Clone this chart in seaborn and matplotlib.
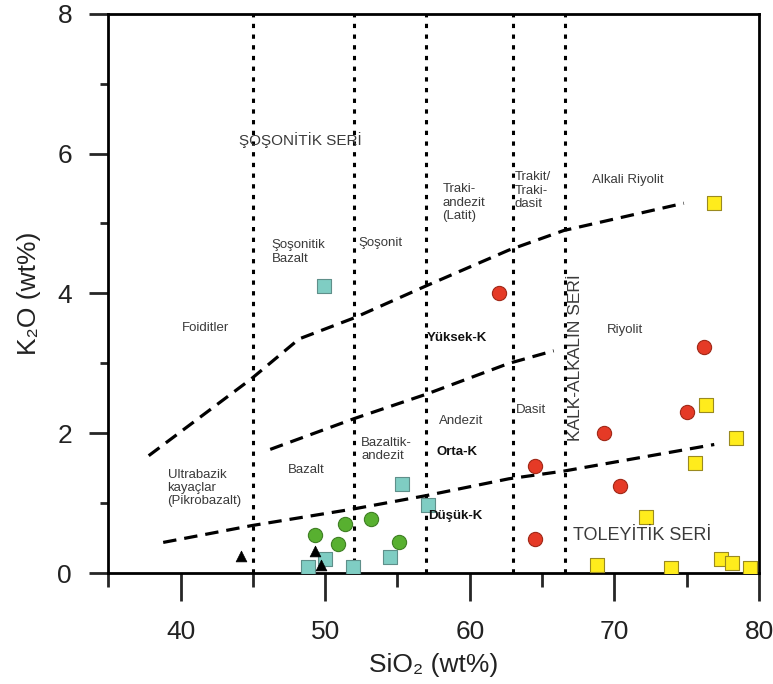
import numpy as np
import pandas as pd
import matplotlib
matplotlib.use("Agg")
import matplotlib.pyplot as plt
import seaborn as sns

# ---------------- data ----------------
cyan_x = [49.9, 55.3, 57.1, 54.5, 51.9, 50.0, 48.8]
cyan_y = [4.10, 1.27, 0.98, 0.23, 0.09, 0.21, 0.09]

green_x = [49.3, 51.4, 53.2, 50.9, 55.1]
green_y = [0.55, 0.71, 0.77, 0.42, 0.44]

tri_x = [44.2, 49.3, 49.7]
tri_y = [0.24, 0.32, 0.11]

red_x = [62.0, 76.2, 75.0, 69.3, 64.5, 70.4, 64.5]
red_y = [4.00, 3.24, 2.31, 2.01, 1.53, 1.24, 0.49]

yellow_x = [76.9, 76.3, 78.4, 75.6, 72.2, 68.8, 73.9, 77.4, 78.1, 79.4]
yellow_y = [5.29, 2.41, 1.93, 1.58, 0.80, 0.11, 0.07, 0.21, 0.14, 0.08]

# series boundaries (dashed lines)
shosh_x = [37.8, 44.9, 48.2, 52.0, 57.0, 62.7, 66.5, 74.8]
shosh_y = [1.68, 2.78, 3.35, 3.65, 4.11, 4.62, 4.90, 5.29]
highk_x = [46.2, 52.0, 57.0, 62.7, 65.8]
highk_y = [1.77, 2.21, 2.56, 3.00, 3.18]
lowk_x = [38.8, 44.9, 52.0, 57.0, 62.7, 66.5, 76.9]
lowk_y = [0.44, 0.68, 0.92, 1.11, 1.35, 1.46, 1.84]

# rock-type boundaries (dotted verticals)
vlines = [45, 52, 57, 63, 66.6]

x_ticks = [40, 50, 60, 70, 80]
y_ticks = [0, 2, 4, 6, 8]

# ---------------- figure ----------------
sns.set_style("white")
plt.rcParams['font.family'] = ['Liberation Sans', 'DejaVu Sans']

fig = plt.figure(figsize=(7.73, 6.84), dpi=100)
ax = fig.add_axes([0.140, 0.162, 0.842, 0.818])

for v in vlines:
    ax.plot([v, v], [0, 8], color='black', lw=2.2, dashes=(1.4, 2.1), zorder=1)

for xs, ys in [(shosh_x, shosh_y), (highk_x, highk_y), (lowk_x, lowk_y)]:
    ax.plot(xs, ys, color='black', lw=2.3, dashes=(4.2, 2.5), zorder=1)

sns.scatterplot(x=cyan_x, y=cyan_y, marker='s', s=90, color='#7fcdc3',
                edgecolor='#5f8f8a', linewidth=0.8, ax=ax, zorder=3)
sns.scatterplot(x=green_x, y=green_y, marker='o', s=105, color='#58b030',
                edgecolor='#3f7f24', linewidth=0.8, ax=ax, zorder=3)
sns.scatterplot(x=tri_x, y=tri_y, marker='^', s=60, color='black',
                edgecolor='black', linewidth=0.5, ax=ax, zorder=3)
sns.scatterplot(x=red_x, y=red_y, marker='o', s=105, color='#e53a26',
                edgecolor='#a02818', linewidth=0.8, ax=ax, zorder=3)
sns.scatterplot(x=yellow_x, y=yellow_y, marker='s', s=90, color='#ffec1c',
                edgecolor='#9a8a20', linewidth=0.8, ax=ax, zorder=3)

ax.set_xlim(35, 80)
ax.set_ylim(0, 8)
ax.set_xticks(x_ticks)
ax.set_yticks(y_ticks)
ax.set_xticks([35, 45, 55, 65, 75], minor=True)
ax.set_yticks([1, 3, 5, 7], minor=True)
ax.tick_params(axis='x', which='major', direction='out', length=20, width=2, labelsize=19, pad=14)
ax.tick_params(axis='x', which='minor', direction='out', length=10, width=2)
ax.tick_params(axis='y', which='major', direction='out', length=14, width=2, labelsize=19, pad=12)
ax.tick_params(axis='y', which='minor', direction='out', length=6, width=2)
ax.tick_params(bottom=True, left=True, which='both')
for lab in ax.get_xticklabels() + ax.get_yticklabels():
    lab.set_color('#222222')
for sp in ax.spines.values():
    sp.set_linewidth(2)
    sp.set_color('black')

ax.set_xlabel('SiO₂ (wt%)', fontsize=19, color='#222222', labelpad=6)
ax.set_ylabel('K₂O (wt%)', fontsize=19, color='#222222', labelpad=12)

gray = '#3a3a3a'
def lab(x, y, s, size=9.5, ha='left', va='center', bold=False, rot=0, color=gray):
    ax.text(x, y, s, fontsize=size, ha=ha, va=va, rotation=rot,
            fontweight='bold' if bold else 'normal', color=color,
            linespacing=1.15, zorder=4)

lab(48.3, 6.19, 'ŞOŞONİTİK SERİ', size=11, ha='center')
lab(70.9, 5.62, 'Alkali Riyolit', ha='center')
lab(58.1, 5.30, 'Traki-\nandezit\n(Latit)')
lab(63.1, 5.47, 'Trakit/\nTraki-\ndasit')
lab(46.3, 4.59, 'Şoşonitik\nBazalt')
lab(52.3, 4.72, 'Şoşonit')
lab(41.7, 3.50, 'Foiditler', ha='center')
lab(57.0, 3.36, 'Yüksek-K', bold=True, color='#111111')
lab(67.3, 3.08, 'KALK-ALKALİN SERİ', size=12.5, ha='center', rot=90)
lab(70.7, 3.48, 'Riyolit', ha='center')
lab(59.4, 2.17, 'Andezit', ha='center')
lab(64.2, 2.33, 'Dasit', ha='center')
lab(52.5, 1.77, 'Bazaltik-\nandezit')
lab(57.7, 1.73, 'Orta-K', bold=True, color='#111111')
lab(48.7, 1.47, 'Bazalt', ha='center')
lab(39.1, 1.22, 'Ultrabazik\nkayaçlar\n(Pikrobazalt)')
lab(57.1, 0.82, 'Düşük-K', bold=True, color='#111111')
lab(67.1, 0.54, 'TOLEYİTİK SERİ', size=13)

fig.savefig('out.png', dpi=100)
